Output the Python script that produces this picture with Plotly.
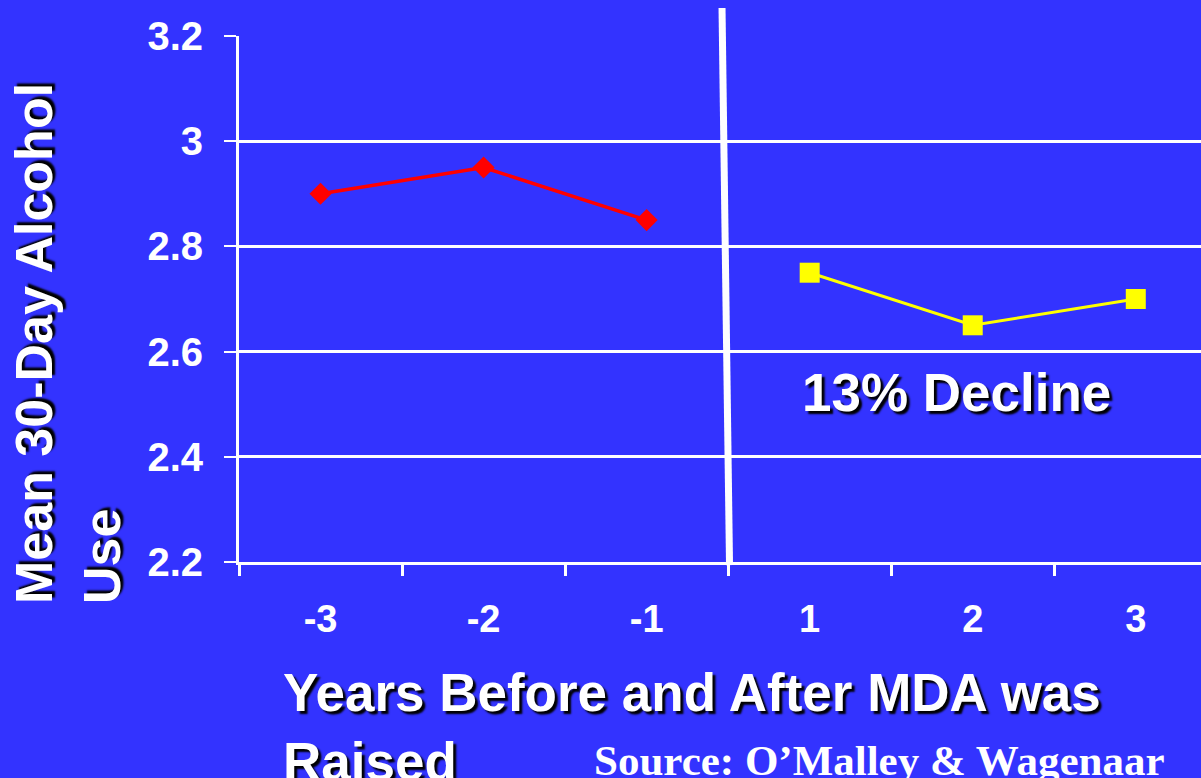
import plotly.graph_objects as go

categories = ["-3", "-2", "-1", "1", "2", "3"]
before_x = ["-3", "-2", "-1"]
before_y = [2.90, 2.95, 2.85]
after_x = ["1", "2", "3"]
after_y = [2.75, 2.65, 2.70]
y_ticks = [2.2, 2.4, 2.6, 2.8, 3.0, 3.2]
y_tick_text = ["2.2", "2.4", "2.6", "2.8", "3", "3.2"]

BG = "#3333FF"
FONT = "Liberation Sans, Arial, sans-serif"
SHADOW = "3px 3px 2px #000000"

fig = go.Figure()
fig.add_trace(go.Scatter(
    x=before_x, y=before_y, mode="lines+markers",
    line=dict(color="#FF0000", width=3.5),
    marker=dict(symbol="diamond", size=17, color="#FF0000"),
    showlegend=False,
))
fig.add_trace(go.Scatter(
    x=after_x, y=after_y, mode="lines+markers",
    line=dict(color="#FFFF00", width=3),
    marker=dict(symbol="square", size=20, color="#FFFF00"),
    showlegend=False,
))

fig.update_layout(
    width=1201, height=778,
    margin=dict(l=239, r=0, t=36, b=216),
    paper_bgcolor=BG, plot_bgcolor=BG,
    font=dict(family=FONT, color="white"),
    xaxis=dict(
        type="category", categoryorder="array", categoryarray=categories,
        range=[-0.5, 5.4], showgrid=False, zeroline=False,
        showline=True, linecolor="white", linewidth=3,
        ticks="outside", tickson="boundaries", ticklen=11, tickwidth=3, tickcolor="white",
        tickfont=dict(family=FONT, size=38, color="white", weight="bold"),
        ticklabelstandoff=21,
    ),
    yaxis=dict(
        range=[2.2, 3.2], tickvals=y_ticks, ticktext=y_tick_text,
        showgrid=True, gridcolor="white", gridwidth=3, zeroline=False,
        showline=True, linecolor="white", linewidth=3,
        ticks="outside", ticklen=12, tickwidth=2, tickcolor="white",
        tickfont=dict(family=FONT, size=40, color="white", weight="bold"),
        ticklabelstandoff=13,
    ),
    shapes=[dict(
        type="line", xref="paper", yref="paper",
        x0=0.5021, y0=1.0532, x1=0.5099, y1=-0.006,
        line=dict(color="white", width=7),
    )],
    annotations=[
        dict(text="13% Decline", xref="paper", yref="paper",
             x=(956 - 239) / 962, y=(562 - 392) / 526,
             xanchor="center", yanchor="middle", showarrow=False,
             font=dict(family=FONT, size=53, color="white", weight="bold", shadow=SHADOW)),
        dict(text="Years Before and After MDA was<br>Raised", xref="paper", yref="paper",
             x=(281 - 239) / 962, y=(562 - 661) / 526,
             xanchor="left", yanchor="top", align="left", showarrow=False,
             font=dict(family=FONT, size=53, color="white", weight="bold", shadow=SHADOW)),
        dict(text="Mean 30-Day Alcohol<br>Use", xref="paper", yref="paper",
             x=(68 - 239) / 962, y=(562 - 344) / 526, textangle=-90,
             xanchor="center", yanchor="middle", align="left", showarrow=False,
             font=dict(family=FONT, size=52, color="white", weight="bold", shadow=SHADOW)),
        dict(text="Source: O\u2019Malley &amp; Wagenaar", xref="paper", yref="paper",
             x=(879 - 239) / 962, y=(562 - 735) / 526,
             xanchor="center", yanchor="top", showarrow=False,
             font=dict(family="Liberation Serif, Times New Roman, serif", size=43,
                       color="white", weight="bold")),
    ],
)

fig.write_html(
    "out.html",
    config={"displayModeBar": False},
    post_script="document.body.style.margin='0';document.body.style.background='#3333FF';"
                "document.documentElement.style.overflow='hidden';",
)
